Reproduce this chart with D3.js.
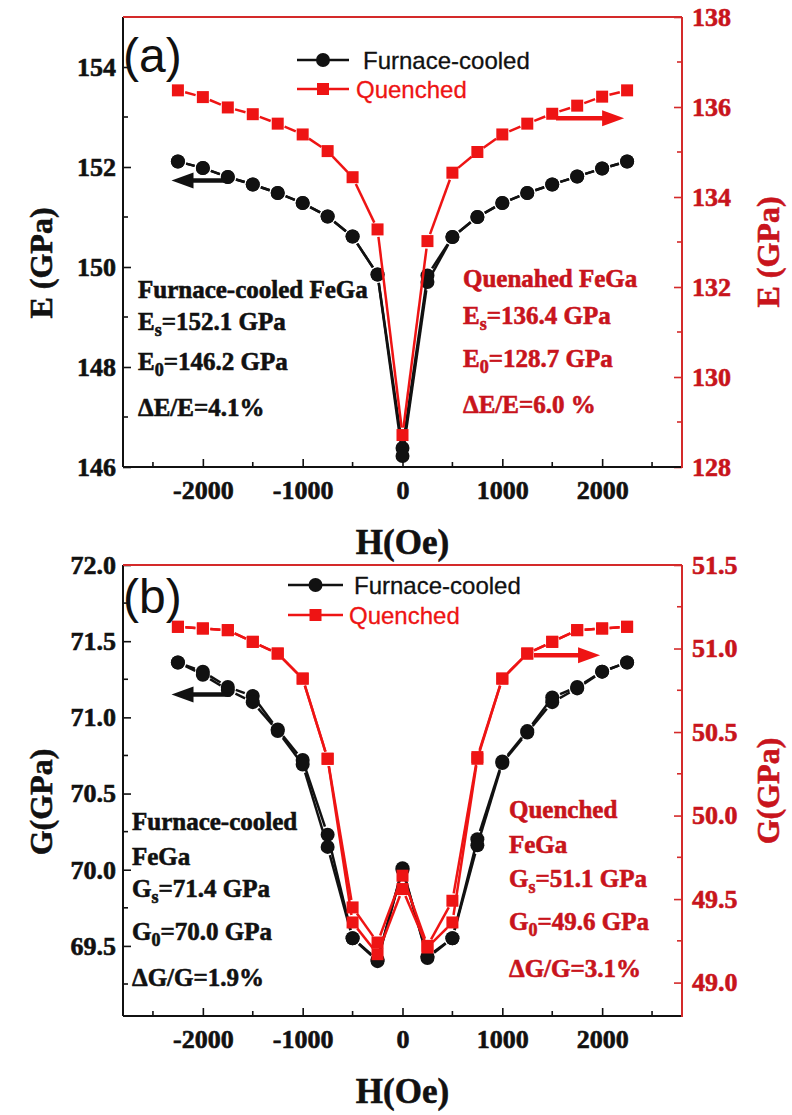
<!DOCTYPE html>
<html>
<head>
<meta charset="utf-8">
<script src="https://cdn.jsdelivr.net/npm/d3@7"></script>
<style>
  body { margin: 0; background: #fff; }
  svg { display: block; }
</style>
</head>
<body>
<svg id="fig" width="792" height="1115"></svg>
<script>
// ---- data ----------------------------------------------------------
const fieldOe = [-2250, -2000, -1750, -1500, -1250, -1000, -750, -500, -250, 0,
                 250, 500, 750, 1000, 1250, 1500, 1750, 2000, 2250];

// (a) Young's modulus E (GPa)
const eFurnaceUp   = [152.11, 151.98, 151.80, 151.65, 151.48, 151.28, 151.01, 150.61, 149.85, 146.38,
                      149.83, 150.60, 151.00, 151.28, 151.48, 151.65, 151.81, 151.97, 152.11];
const eFurnaceDown = [152.11, 151.98, 151.80, 151.65, 151.48, 151.28, 151.01, 150.61, 149.85, 146.22,
                      149.70, 150.60, 151.00, 151.28, 151.48, 151.65, 151.81, 151.97, 152.11];
const eQuenched    = [136.37, 136.22, 135.99, 135.84, 135.63, 135.39, 135.02, 134.44, 133.28, 128.71,
                      133.02, 134.54, 135.00, 135.39, 135.63, 135.85, 136.03, 136.23, 136.37];

// (b) Shear modulus G (GPa)
const gFurnaceUp   = [71.36, 71.30, 71.20, 71.14, 70.92, 70.72, 70.23, 69.55, 69.40, 70.01,
                      69.42, 69.55, 70.20, 70.71, 70.91, 71.13, 71.20, 71.30, 71.36];
const gFurnaceDown = [71.36, 71.28, 71.18, 71.10, 70.91, 70.69, 70.15, 69.55, 69.41, 70.00,
                      69.43, 69.55, 70.16, 70.70, 70.90, 71.10, 71.19, 71.30, 71.36];
const gQuenchedUp   = [51.13, 51.12, 51.11, 51.04, 50.97, 50.82, 50.34, 49.45, 49.24, 49.64,
                       49.22, 49.49, 50.35, 50.82, 50.97, 51.04, 51.11, 51.12, 51.13];
const gQuenchedDown = [51.13, 51.12, 51.11, 51.04, 50.97, 50.82, 50.34, 49.36, 49.17, 49.56,
                       49.21, 49.36, 50.34, 50.82, 50.97, 51.04, 51.11, 51.12, 51.13];

// ticks
const xMajor = [-2000, -1000, 0, 1000, 2000];
const xMinor = [-2500, -1500, -500, 500, 1500, 2500];
const eLeftMajor  = [146, 148, 150, 152, 154];
const eLeftMinor  = [147, 149, 151, 153];
const eRightMajor = [128, 130, 132, 134, 136, 138];
const eRightMinor = [129, 131, 133, 135, 137];
const gLeftMajor  = [69.5, 70.0, 70.5, 71.0, 71.5, 72.0];
const gLeftMinor  = [69.25, 69.75, 70.25, 70.75, 71.25, 71.75];
const gRightMajor = [49.0, 49.5, 50.0, 50.5, 51.0, 51.5];
const gRightMinor = [49.25, 49.75, 50.25, 50.75, 51.25];

const seriesNames = ["Furnace-cooled", "Quenched"];

// ---- styling -------------------------------------------------------
const BLACK = "#111";
const RED = "#ee1414";
const RED_AXIS = "#d42a2a";
const RED_TEXT = "#c8141c";
const SERIF = "'Liberation Serif', 'Times New Roman', serif";
const SANS = "'Liberation Sans', Arial, sans-serif";

const svg = d3.select("#fig");
const X0 = 123, X1 = 682;
const x = d3.scaleLinear().domain([-2800, 2800]).range([X0, X1]);

// heavy serif text helper (bold face plus a thin outline for weight)
function heavy(sel, size, color) {
  return sel.attr("font-family", SERIF).attr("font-weight", "bold")
    .attr("font-size", size).attr("fill", color)
    .attr("stroke", color).attr("stroke-width", 0.6);
}

function panel(cfg) {
  const g = svg.append("g");
  const yL = d3.scaleLinear().domain(cfg.leftDomain).range([cfg.bottom, cfg.top]);
  const yR = d3.scaleLinear().domain(cfg.rightDomain).range([cfg.bottom, cfg.top]);
  const fmt = cfg.fmt;
  const dropDomain = sel => sel.selectAll(".domain").remove();

  // bottom axis (ticks point inward)
  const bx = g.append("g").attr("transform", `translate(0,${cfg.bottom})`);
  bx.call(d3.axisBottom(x).tickValues(xMajor).tickSizeInner(-8).tickSizeOuter(0).tickPadding(14).tickFormat(d3.format("d")));
  bx.call(dropDomain);
  bx.selectAll("line").attr("stroke", BLACK).attr("stroke-width", 1.6);
  heavy(bx.selectAll("text"), 26, BLACK).text(d => d < 0 ? "-" + Math.abs(d) : d);
  bx.selectAll(".minor").data(xMinor).enter().append("line").attr("class", "minor")
    .attr("x1", d => x(d)).attr("x2", d => x(d)).attr("y1", 0).attr("y2", -5)
    .attr("stroke", BLACK).attr("stroke-width", 1.6);

  // left axis
  const lx = g.append("g").attr("transform", `translate(${X0},0)`);
  lx.call(d3.axisLeft(yL).tickValues(cfg.leftMajor).tickSizeInner(-8).tickSizeOuter(0).tickPadding(7).tickFormat(fmt));
  lx.call(dropDomain);
  lx.selectAll("line").attr("stroke", BLACK).attr("stroke-width", 1.6);
  heavy(lx.selectAll("text"), 26, BLACK);
  lx.selectAll(".minor").data(cfg.leftMinor).enter().append("line").attr("class", "minor")
    .attr("x1", 0).attr("x2", 5).attr("y1", d => yL(d)).attr("y2", d => yL(d))
    .attr("stroke", BLACK).attr("stroke-width", 1.6);

  // right axis
  const rx = g.append("g").attr("transform", `translate(${X1},0)`);
  rx.call(d3.axisRight(yR).tickValues(cfg.rightMajor).tickSizeInner(-8).tickSizeOuter(0).tickPadding(10).tickFormat(fmt));
  rx.call(dropDomain);
  rx.selectAll("line").attr("stroke", RED_AXIS).attr("stroke-width", 1.6);
  heavy(rx.selectAll("text"), 26, RED_TEXT);
  rx.selectAll(".minor").data(cfg.rightMinor).enter().append("line").attr("class", "minor")
    .attr("x1", 0).attr("x2", -5).attr("y1", d => yR(d)).attr("y2", d => yR(d))
    .attr("stroke", RED_AXIS).attr("stroke-width", 1.6);

  // frame: left/bottom black, top/right red
  g.append("line").attr("x1", X0).attr("x2", X0).attr("y1", cfg.top).attr("y2", cfg.bottom)
    .attr("stroke", BLACK).attr("stroke-width", 2);
  g.append("line").attr("x1", X0).attr("x2", X1).attr("y1", cfg.bottom).attr("y2", cfg.bottom)
    .attr("stroke", BLACK).attr("stroke-width", 2);
  g.append("line").attr("x1", X0).attr("x2", X1).attr("y1", cfg.top).attr("y2", cfg.top)
    .attr("stroke", RED_AXIS).attr("stroke-width", 2);
  g.append("line").attr("x1", X1).attr("x2", X1).attr("y1", cfg.top).attr("y2", cfg.bottom + 1)
    .attr("stroke", RED_AXIS).attr("stroke-width", 2);

  // series: segments with a small gap to each symbol, then the symbols
  function series(vals, y, color, shape) {
    const pts = fieldOe.map((h, i) => [x(h), y(vals[i])]);
    const r = shape === "circle" ? 7 : 6;
    const gap = r + 1.5;
    const sg = g.append("g");
    for (let i = 0; i < pts.length - 1; i++) {
      const [ax, ay] = pts[i], [bx2, by] = pts[i + 1];
      const dx = bx2 - ax, dy = by - ay, d = Math.hypot(dx, dy);
      if (d <= 2 * gap) continue;
      const ux = dx / d, uy = dy / d;
      sg.append("line")
        .attr("x1", ax + ux * gap).attr("y1", ay + uy * gap)
        .attr("x2", bx2 - ux * gap).attr("y2", by - uy * gap)
        .attr("stroke", color).attr("stroke-width", 2.5);
    }
    if (shape === "circle") {
      sg.selectAll("circle").data(pts).enter().append("circle")
        .attr("cx", d => d[0]).attr("cy", d => d[1]).attr("r", r).attr("fill", color);
    } else {
      sg.selectAll("rect").data(pts).enter().append("rect")
        .attr("x", d => d[0] - r).attr("y", d => d[1] - r)
        .attr("width", 2 * r).attr("height", 2 * r).attr("fill", color);
    }
  }
  cfg.black.forEach(v => series(v, yL, BLACK, "circle"));
  cfg.red.forEach(v => series(v, yR, RED, "square"));

  // direction arrows
  function arrow(h0, h1, v, y, color) {
    const xa = x(h0), xb = x(h1), yy = y(v);
    const dir = Math.sign(xb - xa);
    const headLen = 22, half = 8;
    g.append("line").attr("x1", xa).attr("x2", xb - dir * headLen * 0.8).attr("y1", yy).attr("y2", yy)
      .attr("stroke", color).attr("stroke-width", 4.5);
    g.append("path")
      .attr("d", `M${xb},${yy} L${xb - dir * headLen},${yy - half} L${xb - dir * headLen},${yy + half} Z`)
      .attr("fill", color);
  }
  arrow(cfg.arrowL[0], cfg.arrowL[1], cfg.arrowL[2], yL, BLACK);
  arrow(cfg.arrowR[0], cfg.arrowR[1], cfg.arrowR[2], yR, RED);

  // legend
  const lg = g.append("g");
  [[BLACK, "circle", cfg.legend[0]], [RED, "square", cfg.legend[1]]].forEach(([c, s, p], i) => {
    lg.append("line").attr("x1", p.x0).attr("x2", p.x1).attr("y1", p.y).attr("y2", p.y)
      .attr("stroke", c).attr("stroke-width", 2.5);
    const mx = (p.x0 + p.x1) / 2;
    if (s === "circle") lg.append("circle").attr("cx", mx).attr("cy", p.y).attr("r", 7).attr("fill", c);
    else lg.append("rect").attr("x", mx - 6).attr("y", p.y - 6).attr("width", 12).attr("height", 12).attr("fill", c);
    lg.append("text").attr("x", p.tx).attr("y", p.y + 8.5).text(seriesNames[i])
      .attr("font-family", SANS).attr("font-size", 24).attr("fill", c)
      .attr("stroke", c).attr("stroke-width", 0.3);
  });

  // panel label
  g.append("text").attr("x", 123).attr("y", cfg.top + cfg.labelDy).text(cfg.label)
    .attr("font-family", SANS).attr("font-size", 48).attr("fill", BLACK);

  // annotations
  function note(lines, x0, color) {
    lines.forEach(([base, sub, rest, yb]) => {
      const t = heavy(g.append("text").attr("x", x0).attr("y", yb), 25, color);
      t.append("tspan").text(base);
      if (sub) {
        t.append("tspan").text(sub).attr("font-size", 18).attr("dy", 6);
        t.append("tspan").text(rest).attr("dy", -6);
      }
    });
  }
  note(cfg.noteL, cfg.noteLx, BLACK);
  note(cfg.noteR, cfg.noteRx, RED_TEXT);

  // axis titles
  const title = (tx, ty, txt, color, rot) => heavy(g.append("text")
    .attr("transform", `translate(${tx},${ty})` + (rot ? " rotate(-90)" : ""))
    .attr("text-anchor", "middle").attr("dy", rot ? "0.35em" : 0).text(txt), rot ? 32 : 35, color);
  title(41, cfg.titleLy, cfg.yTitle, BLACK, true);
  title(768, cfg.titleRy, cfg.yTitle, RED_TEXT, true);
  title(x(0), cfg.bottom + 87, "H(Oe)", BLACK, false);
}

panel({
  top: 17, bottom: 467,
  leftDomain: [146, 155], rightDomain: [128, 138],
  leftMajor: eLeftMajor, leftMinor: eLeftMinor,
  rightMajor: eRightMajor, rightMinor: eRightMinor,
  fmt: d3.format("d"),
  black: [eFurnaceUp, eFurnaceDown], red: [eQuenched],
  arrowL: [-1762, -2314, 151.73], arrowR: [1538, 2220, 135.75],
  legend: [{x0: 297, x1: 349, y: 60, tx: 363}, {x0: 297, x1: 349, y: 89, tx: 356}],
  label: "(a)", labelDy: 55,
  noteLx: 138,
  noteL: [["Furnace-cooled FeGa", null, null, 298], ["E", "s", "=152.1 GPa", 330],
          ["E", "0", "=146.2 GPa", 370], ["\u0394E/E=4.1%", null, null, 416]],
  noteRx: 463,
  noteR: [["Quenahed FeGa", null, null, 287], ["E", "s", "=136.4 GPa", 324],
          ["E", "0", "=128.7 GPa", 367], ["\u0394E/E=6.0 %", null, null, 413]],
  yTitle: "E (GPa)", titleLy: 263, titleRy: 252
});

panel({
  top: 565, bottom: 1016,
  leftDomain: [69.04, 72.0], rightDomain: [48.8, 51.5],
  leftMajor: gLeftMajor, leftMinor: gLeftMinor,
  rightMajor: gRightMajor, rightMinor: gRightMinor,
  fmt: d3.format(".1f"),
  black: [gFurnaceUp, gFurnaceDown], red: [gQuenchedUp, gQuenchedDown],
  arrowL: [-1722, -2314, 71.15], arrowR: [1317, 1979, 50.96],
  legend: [{x0: 288, x1: 343, y: 585, tx: 354}, {x0: 288, x1: 343, y: 615, tx: 349}],
  label: "(b)", labelDy: 48,
  noteLx: 132,
  noteL: [["Furnace-cooled", null, null, 830], ["FeGa", null, null, 865], ["G", "s", "=71.4 GPa", 897],
          ["G", "0", "=70.0 GPa", 940], ["\u0394G/G=1.9%", null, null, 986]],
  noteRx: 509,
  noteR: [["Quenched", null, null, 818], ["FeGa", null, null, 853], ["G", "s", "=51.1 GPa", 887],
          ["G", "0", "=49.6 GPa", 930], ["\u0394G/G=3.1%", null, null, 977]],
  yTitle: "G(GPa)", titleLy: 802, titleRy: 791
});
</script>
</body>
</html>
